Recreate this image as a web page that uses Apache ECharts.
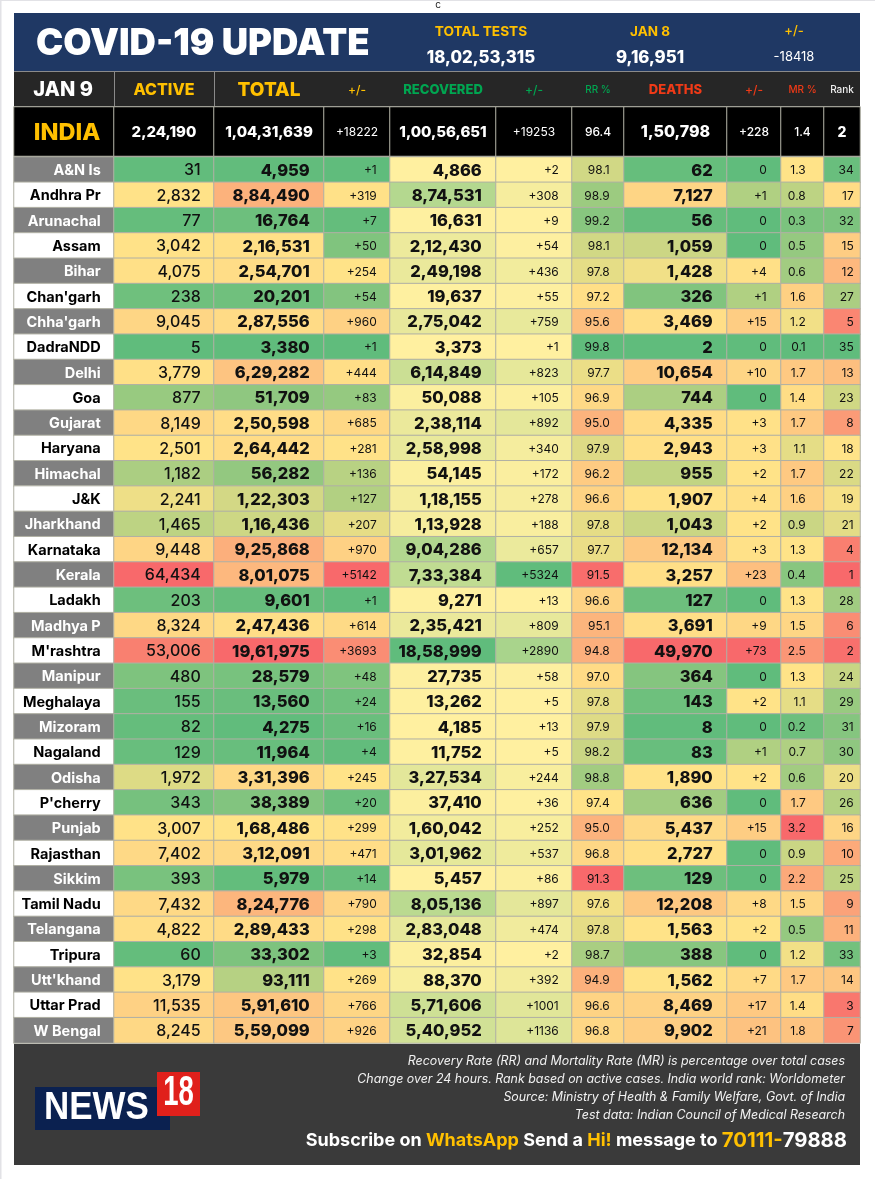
<!DOCTYPE html>
<html>
<head>
<meta charset="utf-8">
<title>COVID-19 Update</title>
<script src="https://cdn.jsdelivr.net/npm/echarts@6/dist/echarts.min.js"></script>
<style>
  html, body { margin: 0; padding: 0; background: #fff; }
  #chart { width: 875px; height: 1179px; }
</style>
</head>
<body>
<div id="chart"></div>
<script>
// data
var states = ["A&N Is","Andhra Pr","Arunachal","Assam","Bihar","Chan'garh","Chha'garh","DadraNDD","Delhi","Goa","Gujarat","Haryana","Himachal","J&K","Jharkhand","Karnataka","Kerala","Ladakh","Madhya P","M'rashtra","Manipur","Meghalaya","Mizoram","Nagaland","Odisha","P'cherry","Punjab","Rajasthan","Sikkim","Tamil Nadu","Telangana","Tripura","Utt'khand","Uttar Prad","W Bengal"];
var active = [31,2832,77,3042,4075,238,9045,5,3779,877,8149,2501,1182,2241,1465,9448,64434,203,8324,53006,480,155,82,129,1972,343,3007,7402,393,7432,4822,60,3179,11535,8245];
var total = [4959,884490,16764,216531,254701,20201,287556,3380,629282,51709,250598,264442,56282,122303,116436,925868,801075,9601,247436,1961975,28579,13560,4275,11964,331396,38389,168486,312091,5979,824776,289433,33302,93111,591610,559099];
var totalChange = [1,319,7,50,254,54,960,1,444,83,685,281,136,127,207,970,5142,1,614,3693,48,24,16,4,245,20,299,471,14,790,298,3,269,766,926];
var recovered = [4866,874531,16631,212430,249198,19637,275042,3373,614849,50088,238114,258998,54145,118155,113928,904286,733384,9271,235421,1858999,27735,13262,4185,11752,327534,37410,160042,301962,5457,805136,283048,32854,88370,571606,540952];
var recoveredChange = [2,308,9,54,436,55,759,1,823,105,892,340,172,278,188,657,5324,13,809,2890,58,5,13,5,244,36,252,537,86,897,474,2,392,1001,1136];
var recoveryRate = [98.1,98.9,99.2,98.1,97.8,97.2,95.6,99.8,97.7,96.9,95.0,97.9,96.2,96.6,97.8,97.7,91.5,96.6,95.1,94.8,97.0,97.8,97.9,98.2,98.8,97.4,95.0,96.8,91.3,97.6,97.8,98.7,94.9,96.6,96.8];
var deaths = [62,7127,56,1059,1428,326,3469,2,10654,744,4335,2943,955,1907,1043,12134,3257,127,3691,49970,364,143,8,83,1890,636,5437,2727,129,12208,1563,388,1562,8469,9902];
var deathsChange = [0,1,0,0,4,1,15,0,10,0,3,3,2,4,2,3,23,0,9,73,0,2,0,1,2,0,15,0,0,8,2,0,7,17,21];
var mortalityRate = [1.3,0.8,0.3,0.5,0.6,1.6,1.2,0.1,1.7,1.4,1.7,1.1,1.7,1.6,0.9,1.3,0.4,1.3,1.5,2.5,1.3,1.1,0.2,0.7,0.6,1.7,3.2,0.9,2.2,1.5,0.5,1.2,1.7,1.4,1.8];
var rank = [34,17,32,15,12,27,5,35,13,23,8,18,22,19,21,4,1,28,6,2,24,29,31,30,20,26,16,10,25,9,11,33,14,3,7];
var indiaRow = ['INDIA','2,24,190','1,04,31,639','+18222','1,00,56,651','+19253','96.4','1,50,798','+228','1.4','2'];
var headerLabels = ['JAN 9','ACTIVE','TOTAL','+/-','RECOVERED','+/-','RR %','DEATHS','+/-','MR %','Rank'];
var notes = ['Recovery Rate (RR) and Mortality Rate (MR) is percentage over total cases','Change over 24 hours. Rank based on active cases. India world rank: Worldometer','Source: Ministry of Health & Family Welfare, Govt. of India','Test data: Indian Council of Medical Research'];

var FONT = 'Inter';
var GREEN = '#60BC7C', YELLOW = '#FFE388', RED = '#F8696B';
var BAD_HIGH = [GREEN, YELLOW, RED], GOOD_HIGH = [RED, YELLOW, GREEN], PALE = ['#FFF0A0', GREEN];

// indian digit grouping, 1234567 -> 12,34,567
function lakh(n) {
	var s = String(n);
	if (s.length <= 3) return s;
	var tail = s.slice(-3), head = s.slice(0, -3);
	return head.replace(/\B(?=(\d{2})+$)/g, ',') + ',' + tail;
}
function plus(n) { return n === 0 ? '0' : '+' + n; }
function oneDec(n) { return n.toFixed(1); }

// excel style position on the scale: 0 min, .5 median, 1 max
function medianScale(values) {
	var s = values.slice().sort(function (a, b) { return a - b; });
	var min = s[0], max = s[s.length - 1], med = s[(s.length - 1) / 2];
	return function (v) {
		if (v <= med) return med === min ? 0 : 0.5 * (v - min) / (med - min);
		return 0.5 + 0.5 * (v - med) / (max - med);
	};
}
function linearScale(values) {
	var min = Math.min.apply(null, values), max = Math.max.apply(null, values);
	return function (v) { return (v - min) / (max - min); };
}

var columns = [
	{ x0: 114, x1: 214, values: active, fmt: lakh, colors: BAD_HIGH, scale: medianScale, size: 16, weight: 500, gap: 14, head: { c: '#FFC000', s: 16, w: 800 }, top: 15, topW: 800 },
	{ x0: 214, x1: 324, values: total, fmt: lakh, colors: BAD_HIGH, scale: medianScale, size: 16.5, weight: 800, gap: 15, head: { c: '#FFC000', s: 19, w: 800 }, top: 15, topW: 800 },
	{ x0: 324, x1: 390, values: totalChange, fmt: plus, colors: BAD_HIGH, scale: medianScale, size: 12, weight: 400, gap: 14, head: { c: '#FFC000', s: 12, w: 500 }, top: 12, topW: 400 },
	{ x0: 390, x1: 496, values: recovered, fmt: lakh, colors: PALE, scale: linearScale, size: 16.5, weight: 800, gap: 15, head: { c: '#00A651', s: 13, w: 800 }, top: 15, topW: 800 },
	{ x0: 496, x1: 572, values: recoveredChange, fmt: plus, colors: PALE, scale: linearScale, size: 12, weight: 400, gap: 14, head: { c: '#00A651', s: 12, w: 500 }, top: 12, topW: 400 },
	{ x0: 572, x1: 624, values: recoveryRate, fmt: oneDec, colors: GOOD_HIGH, scale: medianScale, size: 12, weight: 400, gap: 15, head: { c: '#00A651', s: 10, w: 500 }, top: 12, topW: 500 },
	{ x0: 624, x1: 727, values: deaths, fmt: lakh, colors: BAD_HIGH, scale: medianScale, size: 16.5, weight: 800, gap: 15, head: { c: '#F03A17', s: 13, w: 800 }, top: 16, topW: 800 },
	{ x0: 727, x1: 781, values: deathsChange, fmt: plus, colors: BAD_HIGH, scale: medianScale, size: 12, weight: 400, gap: 15, head: { c: '#F03A17', s: 12, w: 500 }, top: 12, topW: 500 },
	{ x0: 781, x1: 824, values: mortalityRate, fmt: oneDec, colors: BAD_HIGH, scale: medianScale, size: 12, weight: 400, gap: 19, head: { c: '#F03A17', s: 10, w: 500 }, top: 12, topW: 500 },
	{ x0: 824, x1: 860, values: rank, fmt: String, colors: GOOD_HIGH, scale: medianScale, size: 12, weight: 400, gap: 7, head: { c: '#eeeeee', s: 10, w: 500 }, top: 14, topW: 800 }
];

var TABLE_L = 14, TABLE_R = 860, ROWS_TOP = 157, ROWS_H = 886;
var grids = [], xAxes = [], yAxes = [], series = [], visualMaps = [];

// every block of cells gets its own grid + heatmap + visualMap
function addBlock(left, right, top, height, cats, data, colors, labelOpt) {
	var i = grids.length;
	grids.push({ left: left, top: top, width: right - left, height: height, containLabel: false });
	xAxes.push({ type: 'category', gridIndex: i, data: ['c'], show: false });
	yAxes.push({ type: 'category', gridIndex: i, data: cats, inverse: true, show: false });
	labelOpt.offset = labelOpt.offset || [0, 1];
	series.push({
		type: 'heatmap', xAxisIndex: i, yAxisIndex: i, data: data, silent: true, z: 3,
		itemStyle: { borderColor: '#b0b0a4', borderWidth: 1 },
		label: labelOpt
	});
	visualMaps.push({ show: false, type: 'continuous', seriesIndex: i, dimension: 3, min: 0, max: 1, inRange: { color: colors } });
}

// state names
addBlock(TABLE_L, 114, ROWS_TOP, ROWS_H, states, states.map(function (name, r) {
	return { value: [0, r, r, r % 2], name: name, label: { color: r % 2 ? '#000' : '#fff' } };
}), ['#808080', '#ffffff'], {
	show: true, position: 'insideRight', distance: 14, fontFamily: FONT, fontWeight: 700, fontSize: 14.5,
	formatter: function (p) { return p.name; }
});

// india row, first cell
addBlock(TABLE_L, 114, 107, 49, ['India'], [{ value: [0, 0, 0, 0], name: indiaRow[0] }], ['#000', '#000'], {
	show: true, position: 'inside', offset: [3, 1], fontFamily: FONT, fontWeight: 800, fontSize: 23.5, color: '#FFC000',
	formatter: function (p) { return p.name; }
});

columns.forEach(function (col, c) {
	var t = col.scale(col.values);
	addBlock(col.x0, col.x1, ROWS_TOP, ROWS_H, states, col.values.map(function (v, r) {
		return [0, r, v, t(v)];
	}), col.colors, {
		show: true, position: 'insideRight', distance: col.gap, color: '#111', fontFamily: FONT,
		fontWeight: col.weight, fontSize: col.size,
		formatter: function (p) { return col.fmt(p.value[2]); }
	});
	addBlock(col.x0, col.x1, 107, 49, ['India'], [{ value: [0, 0, 0, 0], name: indiaRow[c + 1] }], ['#000', '#000'], {
		show: true, position: 'inside', color: '#fff', fontFamily: FONT, fontWeight: col.topW, fontSize: col.top,
		formatter: function (p) { return p.name; }
	});
});

function text(x, y, str, size, weight, color, align, style) {
	return {
		type: 'text', x: x, y: y + 1, z: 5, silent: true,
		style: { text: str, fontFamily: FONT, fontSize: size, fontWeight: weight, fill: color, align: align || 'center', verticalAlign: 'middle', fontStyle: style || 'normal' }
	};
}
function box(x, y, w, h, fill, z) {
	return { type: 'rect', silent: true, z: z || 1, shape: { x: x, y: y, width: w, height: h }, style: { fill: fill } };
}

var graphics = [
	box(0, 0, 875, 1, '#e2e2e6'), box(0, 0, 1.5, 1179, '#e2e2e6'),
	text(438, 3.5, 'c', 10, 400, '#222'),
	box(TABLE_L, 13, TABLE_R - TABLE_L, 58, '#1F3864'),
	box(TABLE_L, 71, TABLE_R - TABLE_L, 36, '#8a8a8a'),
	box(TABLE_L, 72, TABLE_R - TABLE_L, 34, '#262626', 2),
	box(114, 72, 1, 34, '#8a8a8a', 3), box(214, 72, 1, 34, '#8a8a8a', 3),
	box(TABLE_L, 1044, TABLE_R - TABLE_L, 121, '#3A3A3A'),
	text(36, 43, 'COVID-19 UPDATE', 36.5, 900, '#fff', 'left'),
	text(481, 30.5, 'TOTAL TESTS', 13.7, 700, '#FFC000'),
	text(481, 56.5, '18,02,53,315', 16.8, 800, '#fff'),
	text(650, 30.5, 'JAN 8', 13.5, 700, '#FFC000'),
	text(650, 56.5, '9,16,951', 16.8, 800, '#fff'),
	text(794, 30.5, '+/-', 13, 500, '#FFC000'),
	text(794, 56.5, '-18418', 13, 400, '#fff'),
	text(63, 89, headerLabels[0], 20, 800, '#fff')
];
columns.forEach(function (col, c) {
	graphics.push(text((col.x0 + col.x1) / 2, 89, headerLabels[c + 1], col.head.s, col.head.w, col.head.c));
});
notes.forEach(function (line, i) {
	graphics.push(text(845, 1060 + i * 18, line, 12.4, 400, '#f2f2f2', 'right', 'italic'));
});
graphics.push({
	type: 'text', x: 847, y: 1141, z: 5, silent: true,
	style: {
		text: '{w|Subscribe on }{y|WhatsApp}{w| Send a }{y|Hi!}{w| message to }{n|70111-}{m|79888}',
		align: 'right', verticalAlign: 'middle', fontFamily: FONT,
		rich: {
			w: { fill: '#fff', fontFamily: FONT, fontSize: 18, fontWeight: 700 },
			y: { fill: '#FFC000', fontFamily: FONT, fontSize: 18, fontWeight: 700 },
			n: { fill: '#FFC000', fontFamily: FONT, fontSize: 20.3, fontWeight: 700 },
			m: { fill: '#fff', fontFamily: FONT, fontSize: 20.3, fontWeight: 700 }
		}
	}
});
// news18 logo
graphics.push(box(35, 1087, 135, 43, '#0B2150', 3));
graphics.push(box(157, 1072, 43, 44, '#E0201B', 4));
graphics.push({ type: 'text', x: 44, y: 1109, scaleX: 0.92, z: 5, silent: true, style: { text: 'NEWS', fontFamily: 'Liberation Sans', fontWeight: 700, fontSize: 38, fill: '#fff', verticalAlign: 'middle' } });
graphics.push({ type: 'text', x: 178.5, y: 1093, scaleX: 0.64, z: 5, silent: true, style: { text: '18', fontFamily: 'Liberation Sans', fontWeight: 700, fontSize: 43, fill: '#fff', align: 'center', verticalAlign: 'middle' } });

var chart = echarts.init(document.getElementById('chart'));
chart.setOption({
	animation: false,
	backgroundColor: '#fff',
	tooltip: { show: false },
	grid: grids,
	xAxis: xAxes,
	yAxis: yAxes,
	visualMap: visualMaps,
	series: series,
	graphic: graphics
});
</script>
</body>
</html>
